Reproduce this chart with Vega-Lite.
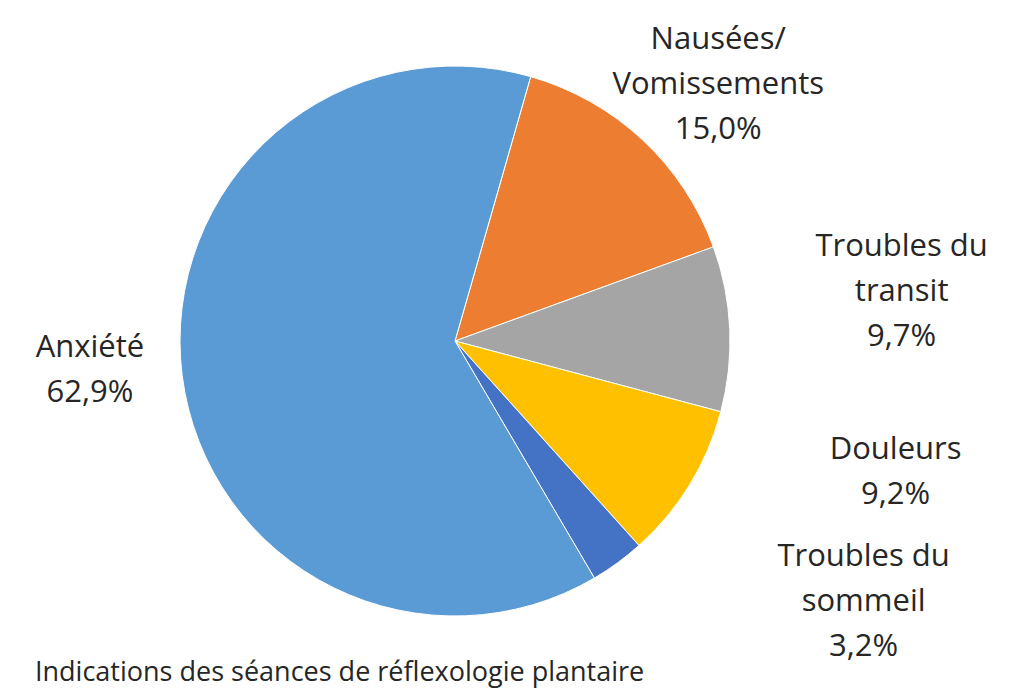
{
  "$schema": "https://vega.github.io/schema/vega-lite/v6.json",
  "autosize": "none",
  "width": 910,
  "height": 682,
  "padding": {"left": 0, "top": 0, "right": 104, "bottom": 7},
  "background": "white",
  "config": {"view": {"stroke": null}, "font": "Open Sans"},
  "title": {
    "text": "Indications des séances de réflexologie plantaire",
    "orient": "bottom",
    "anchor": "start",
    "frame": "group",
    "baseline": "alphabetic",
    "offset": -1,
    "dx": 35,
    "fontSize": 27,
    "fontWeight": "normal",
    "color": "#262626",
    "font": "Open Sans"
  },
  "data": {
    "values": [
      {"cat": "Nausées/Vomissements", "value": 15.0, "ord": 1, "label": ["Nausées/", "Vomissements", "15,0%"]},
      {"cat": "Troubles du transit", "value": 9.7, "ord": 2, "label": ["Troubles du", "transit", "9,7%"]},
      {"cat": "Douleurs", "value": 9.2, "ord": 3, "label": ["Douleurs", "9,2%"]},
      {"cat": "Troubles du sommeil", "value": 3.2, "ord": 4, "label": ["Troubles du", "sommeil", "3,2%"]},
      {"cat": "Anxiété", "value": 62.9, "ord": 5, "label": ["Anxiété", "62,9%"]}
    ]
  },
  "encoding": {
    "theta": {"field": "value", "type": "quantitative", "stack": true, "scale": {"range": [0.279, 6.562]}},
    "order": {"field": "ord", "type": "quantitative"}
  },
  "layer": [
    {
      "mark": {"type": "arc", "outerRadius": 275, "stroke": "white", "strokeWidth": 1},
      "encoding": {
        "color": {
          "field": "cat",
          "type": "nominal",
          "scale": {
            "domain": ["Nausées/Vomissements", "Troubles du transit", "Douleurs", "Troubles du sommeil", "Anxiété"],
            "range": ["#ED7D31", "#A5A5A5", "#FFC000", "#4472C4", "#5B9BD5"]
          },
          "legend": null
        }
      }
    },
    {
      "mark": {"type": "text", "radius": 370, "dx": 11, "dy": -30, "fontSize": 31, "lineHeight": 45, "align": "center", "baseline": "middle", "color": "#262626"},
      "encoding": {"text": {"condition": {"test": "datum.ord === 1", "field": "label"}, "value": ""}}
    },
    {
      "mark": {"type": "text", "radius": 370, "dx": 77, "dy": -77, "fontSize": 31, "lineHeight": 45, "align": "center", "baseline": "middle", "color": "#262626"},
      "encoding": {"text": {"condition": {"test": "datum.ord === 2", "field": "label"}, "value": ""}}
    },
    {
      "mark": {"type": "text", "radius": 370, "dx": 125, "dy": -84, "fontSize": 31, "lineHeight": 45, "align": "center", "baseline": "middle", "color": "#262626"},
      "encoding": {"text": {"condition": {"test": "datum.ord === 3", "field": "label"}, "value": ""}}
    },
    {
      "mark": {"type": "text", "radius": 370, "dx": 190, "dy": -83, "fontSize": 31, "lineHeight": 45, "align": "center", "baseline": "middle", "color": "#262626"},
      "encoding": {"text": {"condition": {"test": "datum.ord === 4", "field": "label"}, "value": ""}}
    },
    {
      "mark": {"type": "text", "radius": 370, "dx": 2, "dy": -40, "fontSize": 31, "lineHeight": 45, "align": "center", "baseline": "middle", "color": "#262626"},
      "encoding": {"text": {"condition": {"test": "datum.ord === 5", "field": "label"}, "value": ""}}
    }
  ]
}
